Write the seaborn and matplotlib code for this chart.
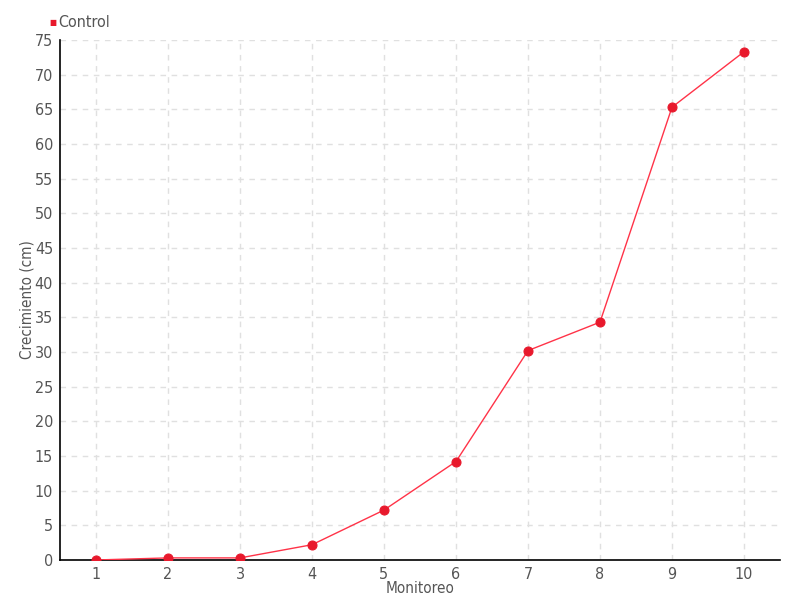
#!/usr/bin/env python3
"""Crecimiento (cm) por monitoreo - grupo Control."""

import pandas as pd
import matplotlib
matplotlib.use('Agg')
import matplotlib.pyplot as plt
import seaborn as sns

monitoreo = [1, 2, 3, 4, 5, 6, 7, 8, 9, 10]
control = [0.0, 0.3, 0.3, 2.2, 7.2, 14.2, 30.2, 34.3, 65.3, 73.3]
y_ticks = list(range(0, 80, 5))

sns.set_style('white')
plt.rcParams['font.family'] = ['DejaVu Sans']
plt.rcParams['font.stretch'] = 'condensed'

df = pd.DataFrame({'Monitoreo': monitoreo, 'Crecimiento': control})

fig = plt.figure(figsize=(8, 6), dpi=100)
ax = fig.add_axes([0.075, 0.0667, 0.9, 0.8667])

sns.lineplot(data=df, x='Monitoreo', y='Crecimiento', ax=ax, color='#ff3348',
             linewidth=1, marker='o', markersize=6.5, markerfacecolor='#e8192c',
             markeredgecolor='#e8192c', zorder=3)

ax.set_xlim(0.5, 10.5)
ax.set_ylim(0, 75)
ax.set_xticks(monitoreo)
ax.set_yticks(y_ticks)
ax.grid(True, color='#e0e0e0', linestyle=(0, (4, 4)), linewidth=1)
ax.set_axisbelow(True)

for s in ['top', 'right']:
    ax.spines[s].set_visible(False)
for s in ['left', 'bottom']:
    ax.spines[s].set_color('black')
    ax.spines[s].set_linewidth(1.2)

ax.tick_params(axis='both', direction='out', length=4, width=1, colors='black',
               labelcolor='#555555', labelsize=11.5, pad=1)

ax.set_xlabel('Monitoreo', fontsize=11, color='#555555', labelpad=-1)
ax.set_ylabel('Crecimiento (cm)', fontsize=11, color='#555555', labelpad=0)

fig.text(0.062, 0.963, '■', color='#e8192c', fontsize=6, va='center', ha='left')
fig.text(0.073, 0.963, 'Control', color='#555555', fontsize=11.5, va='center', ha='left')

plt.savefig('out.png', dpi=100)
plt.close()
